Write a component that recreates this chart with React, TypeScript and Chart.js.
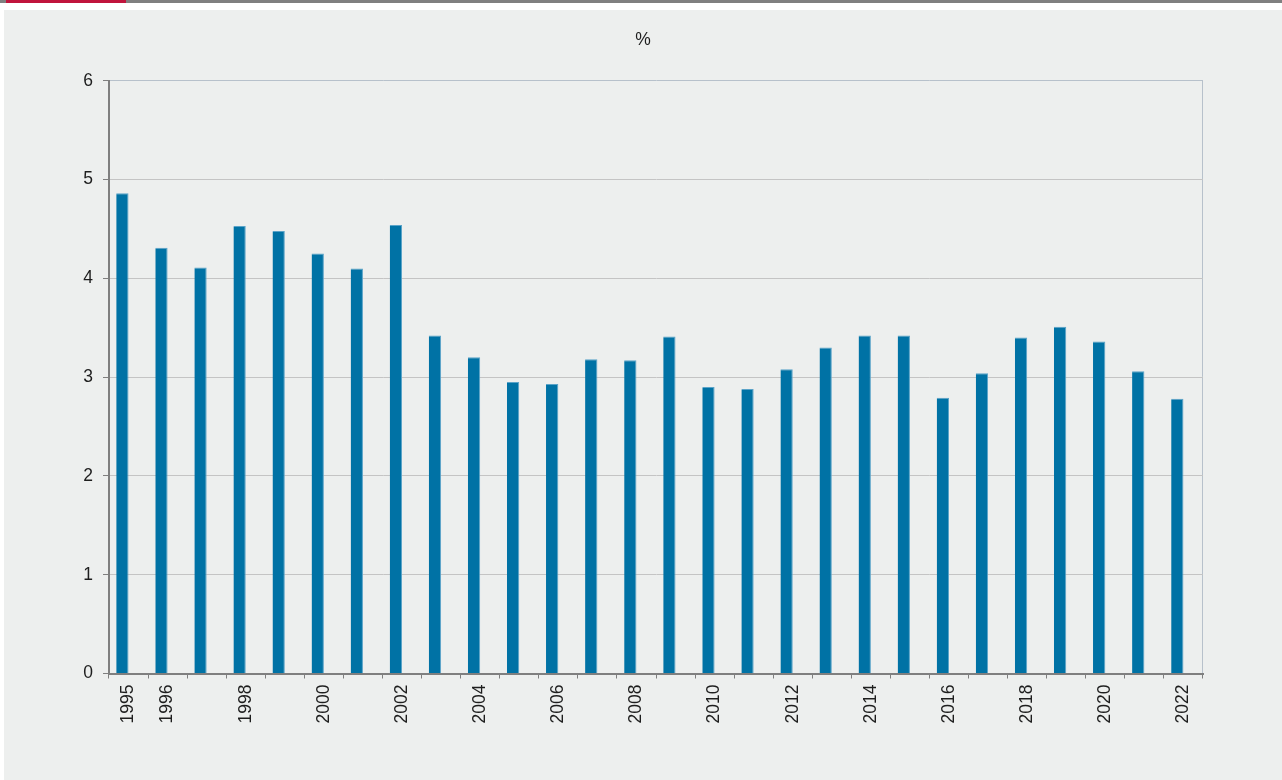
import { useEffect, useRef } from 'react';
import { Chart, registerables } from 'chart.js';

Chart.register(...registerables);

const years = [
  '1995', '1996', '1997', '1998', '1999', '2000', '2001', '2002', '2003', '2004',
  '2005', '2006', '2007', '2008', '2009', '2010', '2011', '2012', '2013', '2014',
  '2015', '2016', '2017', '2018', '2019', '2020', '2021', '2022',
];

const shareValues = [
  4.86, 4.31, 4.11, 4.53, 4.48, 4.25, 4.10, 4.54, 3.42, 3.20,
  2.95, 2.93, 3.18, 3.17, 3.41, 2.90, 2.88, 3.08, 3.30, 3.42,
  3.42, 2.79, 3.04, 3.40, 3.51, 3.36, 3.06, 2.78,
];

// second (empty) series of the original clustered bar chart
const emptySeries = [
  null, null, null, null, null, null, null, null, null, null,
  null, null, null, null, null, null, null, null, null, null,
  null, null, null, null, null, null, null, null,
];

const shownYearLabels = [
  '1995', '1996', '1998', '2000', '2002', '2004', '2006', '2008',
  '2010', '2012', '2014', '2016', '2018', '2020', '2022',
];

const yMin = 0;
const yMax = 6;
const yStep = 1;
const unitLabel = '%';

const FONT = "'Liberation Sans', Arial, Helvetica, sans-serif";
const TEXT = '#1e1e1e';

export default function App() {
  const canvasRef = useRef<HTMLCanvasElement | null>(null);

  useEffect(() => {
    if (!canvasRef.current) return;
    const chart = new Chart(canvasRef.current, {
      type: 'bar',
      data: {
        labels: years,
        datasets: [
          {
            label: 'Share',
            data: shareValues,
            backgroundColor: '#0072a5',
            borderColor: '#5aa3c8',
            borderWidth: { top: 1, right: 1, left: 0, bottom: 0 },
            borderSkipped: 'bottom',
            categoryPercentage: 0.63,
            barPercentage: 1,
          },
          {
            label: '',
            data: emptySeries as any,
            backgroundColor: 'rgba(0,0,0,0)',
            categoryPercentage: 0.63,
            barPercentage: 1,
          },
        ],
      },
      options: {
        responsive: false,
        animation: false,
        layout: { padding: { left: 79, right: 79, top: 0, bottom: 0 } },
        plugins: {
          legend: { display: false },
          tooltip: { enabled: false },
          title: {
            display: true,
            text: unitLabel,
            color: TEXT,
            font: { family: FONT, size: 17.5, weight: 'normal' },
            padding: { top: 19.5, bottom: 30.2 },
          },
        },
        scales: {
          x: {
            offset: true,
            grid: {
              offset: true,
              drawOnChartArea: true,
              color: (ctx: any) => (ctx.type === 'scale' ? '#b7c1cb' : 'rgba(0,0,0,0)'),
              tickColor: '#7f7f7f',
              tickLength: 5,
              lineWidth: 1,
            },
            border: { display: true, color: '#7f7f7f', width: 2 },
            ticks: {
              autoSkip: false,
              minRotation: 90,
              maxRotation: 90,
              padding: 6,
              color: TEXT,
              font: { family: FONT, size: 17.5 },
              callback: (_v: any, i: number) =>
                shownYearLabels.includes(years[i]) ? years[i] : '',
            },
            afterFit: (scale: any) => {
              scale.height = 106.5;
              scale.paddingLeft = 0;
              scale.paddingRight = 0;
            },
          },
          y: {
            min: yMin,
            max: yMax,
            grid: {
              color: (ctx: any) => {
                const v = ctx.tick ? ctx.tick.value : null;
                if (v === yMax) return '#b7c1cb';
                if (v === yMin) return '#7f7f7f';
                return '#c4c4c4';
              },
              tickColor: '#7f7f7f',
              tickLength: 6,
              lineWidth: 1,
            },
            border: { display: true, color: '#7f7f7f', width: 2 },
            ticks: {
              stepSize: yStep,
              padding: 10,
              color: TEXT,
              font: { family: FONT, size: 17.5 },
            },
            afterFit: (scale: any) => {
              scale.width = 26;
            },
          },
        },
      },
    });
    return () => chart.destroy();
  }, []);

  return (
    <div
      style={{
        position: 'absolute',
        left: 0,
        top: 0,
        width: 1282,
        height: 780,
        background: '#ffffff',
        overflow: 'hidden',
      }}
    >
      <div style={{ position: 'absolute', left: 0, top: 0, width: 1282, height: 3, background: '#808080' }} />
      <div style={{ position: 'absolute', left: 6, top: 0, width: 120, height: 3, background: '#c0143c' }} />
      <div
        style={{
          position: 'absolute',
          left: 4,
          top: 10,
          width: 1278,
          height: 770,
          background: '#edefee',
        }}
      >
        <canvas ref={canvasRef} width={1278} height={770} style={{ display: 'block' }} />
      </div>
    </div>
  );
}
